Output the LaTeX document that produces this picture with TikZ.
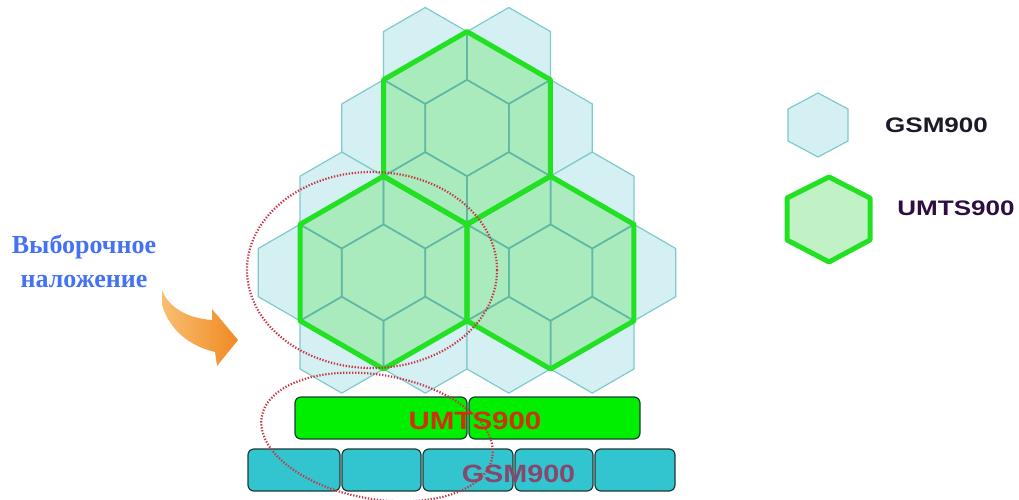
\documentclass[tikz,border=0pt]{standalone}
\usepackage{fontspec}
\usepackage{graphicx}
\setmainfont{Liberation Serif}
\newfontfamily\arialf{Liberation Sans}
\definecolor{gsmfill}{HTML}{D4F0F2}
\definecolor{gsmline}{HTML}{7FCACC}
\definecolor{umtsfill}{HTML}{A9EBBC}
\definecolor{umtslegfill}{HTML}{C0F2C6}
\definecolor{umtsinner}{HTML}{5FB9A6}
\definecolor{umtsline}{HTML}{22E022}
\definecolor{dotred}{HTML}{C83444}
\definecolor{bargreen}{HTML}{00EE00}
\definecolor{barteal}{HTML}{33C5CF}
\definecolor{barline}{HTML}{1E3A36}
\definecolor{txtblue}{HTML}{4472F2}
\definecolor{txtred}{HTML}{CC3308}
\definecolor{txtgsm}{HTML}{86486E}
\definecolor{legdark}{HTML}{1A1A28}
\definecolor{legpurple}{HTML}{2E0E40}
\definecolor{arrowlight}{HTML}{F9BE72}
\definecolor{arrowdark}{HTML}{F08A22}
\newcommand{\hexcoords}[3]{(#1,#2-#3) -- (#1-0.8660254*#3,#2-0.5*#3) -- (#1-0.8660254*#3,#2+0.5*#3) -- (#1,#2+#3) -- (#1+0.8660254*#3,#2+0.5*#3) -- (#1+0.8660254*#3,#2-0.5*#3) -- cycle}
\def\smallhexes{425.25/55.7, 508.75/55.7, 383.5/128, 467/128, 550.5/128, 341.75/200.3, 425.25/200.3, 508.75/200.3, 592.25/200.3, 300/272.6, 383.5/272.6, 467/272.6, 550.5/272.6, 634/272.6, 341.75/344.9, 425.25/344.9, 508.75/344.9, 592.25/344.9}
\def\bighexes{467/128, 383.5/272.6, 550.5/272.6}
\begin{document}
\begin{tikzpicture}[x=1pt,y=-1pt,
  smallhex/.style={fill=gsmfill, draw=gsmline, line width=1.2pt, line join=round},
  innerline/.style={draw=umtsinner, line width=1.5pt, line join=round},
  bighexfill/.style={fill=umtsfill},
  bighexline/.style={draw=umtsline, line width=5pt, line join=round},
  dottedring/.style={draw=dotred, line width=2.2pt, dash pattern=on 1.3pt off 1.7pt},
  umtsbar/.style={fill=bargreen, draw=barline, line width=1.2pt, rounded corners=6pt},
  gsmbar/.style={fill=barteal, draw=barline, line width=1.2pt, rounded corners=6pt},
  bartxt/.style={font=\arialf\bfseries\fontsize{25}{25}\selectfont, inner sep=0pt},
  legtxt/.style={font=\arialf\bfseries\fontsize{21}{21}\selectfont, inner sep=0pt},
  lefttxt/.style={font=\bfseries\fontsize{26}{26}\selectfont, text=txtblue, inner sep=0pt}]
\useasboundingbox (0,0) rectangle (1019,500);
% GSM cells
\foreach \cx/\cy in \smallhexes {\path[smallhex] \hexcoords{\cx}{\cy}{48.2};}
% UMTS cells
\foreach \cx/\cy in \bighexes {\path[bighexfill] \hexcoords{\cx}{\cy}{96.4};}
\begin{scope}
  \clip \hexcoords{467}{128}{96.4} \hexcoords{383.5}{272.6}{96.4} \hexcoords{550.5}{272.6}{96.4};
  \foreach \cx/\cy in \smallhexes {\path[innerline] \hexcoords{\cx}{\cy}{48.2};}
\end{scope}
\foreach \cx/\cy in \bighexes {\path[bighexline] \hexcoords{\cx}{\cy}{96.4};}
% legend
\path[smallhex] (818,93) -- (788,109) -- (788,141) -- (818,157) -- (848,141) -- (848,109) -- cycle;
\path[fill=umtslegfill, draw=umtsline, line width=5pt, line join=round] (829,177) -- (787,198) -- (787,240) -- (829,262) -- (870,240) -- (870,198) -- cycle;
\node[legtxt, text=legdark] (lgsm) at (936.5,125.5) {\scalebox{1.24}[1]{GSM900}};
\node[legtxt, text=legpurple] (lumts) at (956,208.5) {\scalebox{1.24}[1]{UMTS900}};
% bars
\path[umtsbar] (295,397) rectangle (467,439);
\path[umtsbar] (469,397) rectangle (640,439);
\path[gsmbar] (248,449) rectangle (340,491);
\path[gsmbar] (342,449) rectangle (421,491);
\path[gsmbar] (423,449) rectangle (513,491);
\path[gsmbar] (515,449) rectangle (593,491);
\path[gsmbar] (595,449) rectangle (675,491);
\node[bartxt, text=txtred] (bumts) at (475,421) {\scalebox{1.18}[1]{UMTS900}};
\node[bartxt, text=txtgsm] (bgsm) at (518.5,474) {\scalebox{1.15}[1]{GSM900}};
% left label and arrow
\node[lefttxt, anchor=base] (sel1) at (84,253) {Выборочное};
\node[lefttxt, anchor=base] (sel2) at (84,287) {наложение};
\shade[left color=arrowlight, right color=arrowdark] (162,290) .. controls (168,306) and (185,318) .. (212,320) -- (212,309) -- (238,340) -- (217,366) -- (215,352) .. controls (190,346) and (170,331) .. (162,305) -- cycle;
% dotted rings
\path[dottedring] (372,270) ellipse [x radius=125, y radius=98];
\path[dottedring, rotate around={-10:(377,437)}] (377,437) ellipse [x radius=117, y radius=62];
\end{tikzpicture}
\end{document}
